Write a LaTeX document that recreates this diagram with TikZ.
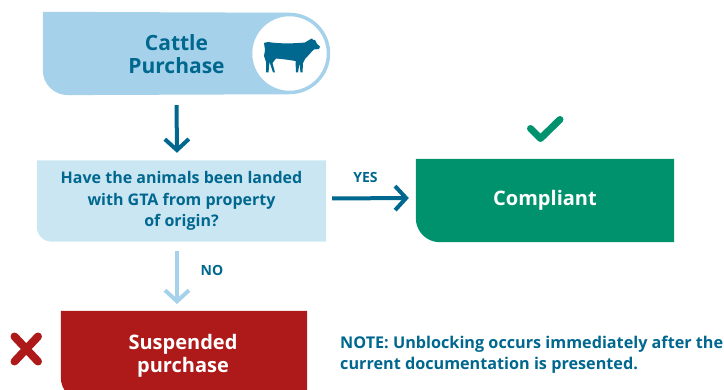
\documentclass[tikz,border=0pt]{standalone}
\usepackage{fontspec}
\setmainfont{Open Sans}
\usetikzlibrary{arrows.meta,backgrounds}
\definecolor{skyb}{HTML}{A5D2EA}
\definecolor{pale}{HTML}{CBE6F3}
\definecolor{deep}{HTML}{00678F}
\definecolor{grn}{HTML}{00926D}
\definecolor{rd}{HTML}{AD1A19}
\tikzset{x=1pt,y=-1pt,
 boxnode/.style={rectangle,inner sep=0pt,align=center,font=\bfseries\fontsize{20}{23}\selectfont},
 small/.style={font=\bfseries\fontsize{14}{20}\selectfont,text=deep,inner sep=0pt},
 arr/.style={line width=4pt,-{Straight Barb[length=11pt,width=24pt,line width=4pt]}},
}
\begin{document}
\begin{tikzpicture}
\useasboundingbox (0,0) rectangle (724,390);
\node[boxnode,minimum width=267pt,minimum height=83pt] (cattle) at (176.5,53.5) {};
\node[boxnode,text=deep,font=\bfseries\fontsize{21}{23}\selectfont] (cattlet) at (176.5,54.5) {Cattle\\Purchase};
\node[circle,draw=skyb,fill=white,line width=3.5pt,minimum size=78pt,inner sep=0pt] (cowc) at (289.5,53.5) {};
\node[boxnode,minimum width=289pt,minimum height=81pt,text=deep,font=\bfseries\fontsize{16}{21.5}\selectfont] (q) at (181.5,201) {Have the animals been landed\\with GTA from property\\of origin?};
\node[boxnode,minimum width=258pt,minimum height=83pt,text=white] (ok) at (545,200.5) {Compliant};
\node[boxnode,minimum width=246pt,minimum height=90pt,anchor=north] (sus) at (184,311) {};
\node[boxnode,text=white] (sust) at (183,355.5) {Suspended\\purchase};
\begin{scope}[on background layer]
\fill[skyb] (cattle.north west) -- (cowc.north) -- (cowc.south) [rounded corners=25pt] -- (cattle.south west) [sharp corners] -- cycle;
\fill[pale] (q.north west) -- (q.north east) -- (q.south east) [rounded corners=15pt] -- (q.south west) [sharp corners] -- cycle;
\fill[grn] (ok.north west) -- (ok.north east) -- (ok.south east) [rounded corners=24pt] -- (ok.south west) [sharp corners] -- cycle;
\fill[rd] (sus.north west) -- (sus.north east) -- (sus.south east) [rounded corners=24pt] -- (sus.south west) [sharp corners] -- cycle;
\end{scope}
\fill[deep] (264,43) -- (268,42) .. controls (280,44) and (295,43.5) .. (305,42.5) -- (310,39.5) -- (312,38.5) -- (313,40) -- (315,40) -- (317,44) -- (320,46.5) -- (319,49) -- (314,49.5) .. controls (311,52) and (309,55) .. (305,59) -- (303,63) -- (302.5,72.5) -- (300.5,72.5) -- (299.5,63) -- (298,72.5) -- (296,72.5) -- (295.5,61) .. controls (290,60) and (282,59) .. (276,58.5) -- (272.5,63) -- (275,72.5) -- (273,72.5) -- (269.5,62) -- (268.5,72.5) -- (266,72.5) -- (266,62) -- (264,56) -- (265,50) -- cycle;
\draw[arr,deep,shorten <=10pt,shorten >=7.5pt] (cattle.south) -- ([xshift=-4.5pt]q.north);
\draw[arr,skyb,shorten <=9pt,shorten >=7pt] ([xshift=-4.5pt]q.south) -- ([xshift=-7pt]sus.north);
\draw[arr,deep,shorten <=6pt,shorten >=7pt] ([yshift=2.5pt]q.east) -- ([yshift=2.5pt]ok.west);
\node[small,anchor=center] (yes) at (365.5,178) {YES};
\node[small,anchor=center] (no) at (212,270.5) {NO};
\node[anchor=west,inner sep=0pt,align=left,text=deep,font=\bfseries\fontsize{16.2}{20.5}\selectfont] (note) at (340,354.5) {NOTE: Unblocking occurs immediately after the\\current documentation is presented.};
\coordinate (ck1) at (530.5,128.5);
\coordinate (ck2) at (540.5,138.5);
\coordinate (ck3) at (560,119.5);
\draw[grn,line width=7pt,line cap=round,line join=round] (ck1) -- (ck2) -- (ck3);
\coordinate (x1) at (14.5,336.5);
\coordinate (x2) at (38,361.5);
\coordinate (x3) at (38,336.5);
\coordinate (x4) at (14.5,361.5);
\draw[rd,line width=8pt,line cap=round] (x1) -- (x2) (x3) -- (x4);
\end{tikzpicture}
\end{document}
